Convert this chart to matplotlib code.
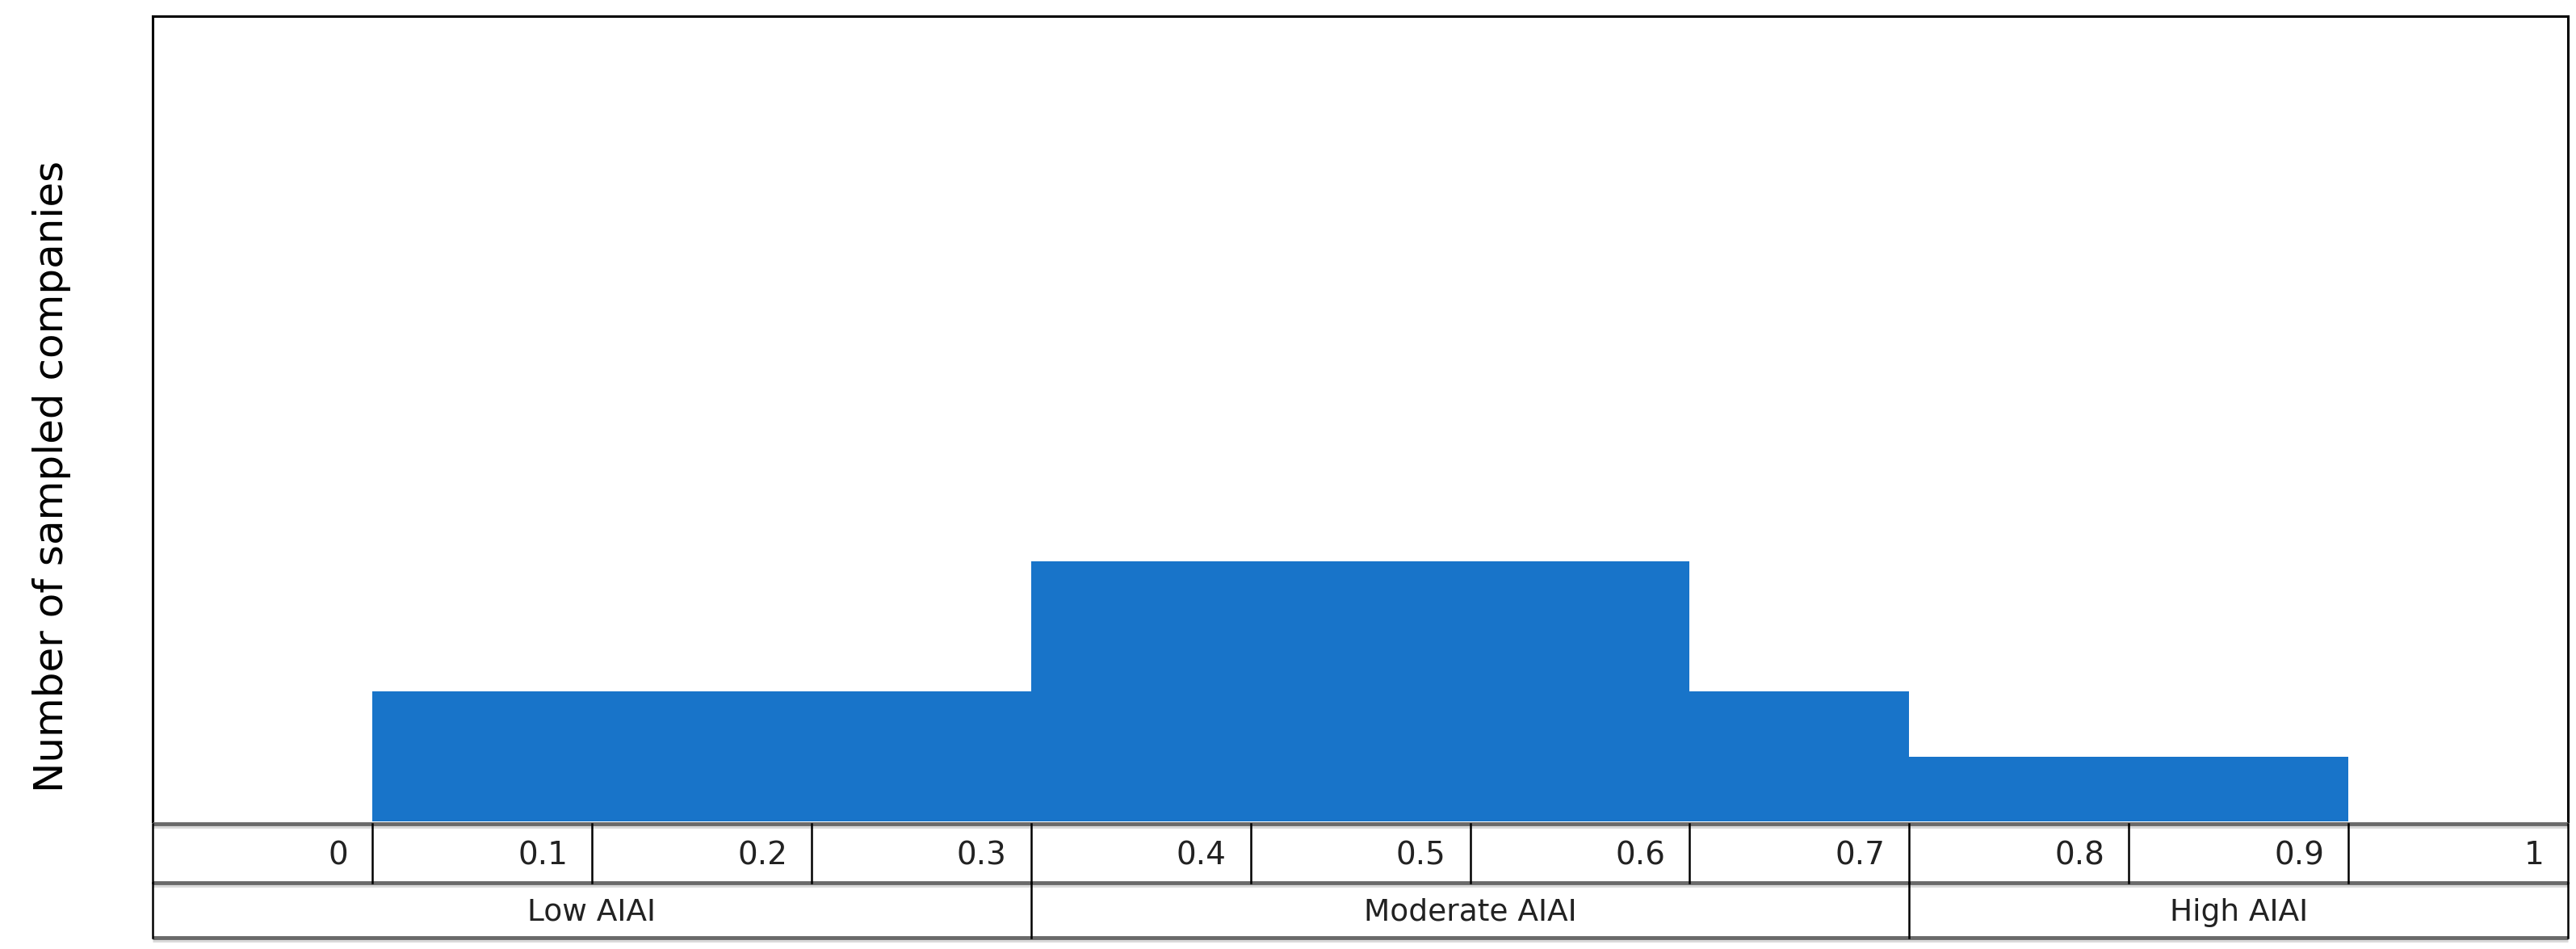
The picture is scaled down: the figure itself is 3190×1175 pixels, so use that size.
import matplotlib.pyplot as plt

# AIAI score bins and number of companies per bin
ticks = ["0", "0.1", "0.2", "0.3", "0.4", "0.5", "0.6", "0.7", "0.8", "0.9", "1"]
counts = [0, 2, 2, 2, 4, 4, 4, 2, 1, 1, 0]

groups = ["Low AIAI", "Moderate AIAI", "High AIAI"]
group_start = [0, 4, 8]
group_end = [3, 7, 10]

bar_color = "#1874C9"
cell_font = ["DejaVu Sans"]

fig = plt.figure(figsize=(31.9, 11.75), dpi=100)

# Main plot area
ax = fig.add_axes([0.0593, 0.1345, 0.9376, 0.8485])
x = list(range(len(ticks)))
ax.bar(x, counts, width=1.0, color=bar_color, linewidth=0)
ax.set_xlim(-0.5, len(ticks) - 0.5)
ax.set_ylim(0, 12.4)
ax.set_xticks([])
ax.set_yticks([])
ax.spines["bottom"].set_visible(False)
for s in ["left", "right", "top"]:
    ax.spines[s].set_linewidth(2.2)
    ax.spines[s].set_color("black")

# Table under the chart
tab = fig.add_axes([0.0593, 0.0119, 0.9376, 0.1200])
tab.set_xlim(-0.5, len(ticks) - 0.5)
tab.set_ylim(1, 0)
tab.axis("off")

mid = 0.52
for yy in [0, mid, 1]:
    tab.plot([-0.5, len(ticks) - 0.5], [yy, yy], color="#6a6a6a",
             linewidth=3.5, clip_on=False, solid_capstyle="butt")
    tab.plot([-0.5, len(ticks) - 0.5], [yy + 0.025, yy + 0.025], color="#d8d8d8",
             linewidth=2, clip_on=False, solid_capstyle="butt")

# tick cells
for i, label in enumerate(ticks):
    tab.plot([i - 0.5, i - 0.5], [0, mid], color="black", linewidth=1.8, clip_on=False)
    tab.text(i + 0.39, mid / 2 + 0.02, label, ha="right", va="center",
             fontsize=28, family=cell_font, color="#222222")
tab.plot([len(ticks) - 0.5] * 2, [0, mid], color="black", linewidth=1.8, clip_on=False)

# group cells
for name, a, b in zip(groups, group_start, group_end):
    tab.plot([a - 0.5, a - 0.5], [mid, 1], color="black", linewidth=1.8, clip_on=False)
    tab.text((a + b) / 2, (mid + 1) / 2 + 0.02, name, ha="center", va="center",
             fontsize=27, family=cell_font, color="#222222")
tab.plot([len(ticks) - 0.5] * 2, [mid, 1], color="black", linewidth=1.8, clip_on=False)

fig.text(0.020, 0.498, "Number of sampled companies", rotation=90,
         ha="center", va="center", fontsize=36, family="DejaVu Sans")

fig.savefig("out.png", dpi=100)
